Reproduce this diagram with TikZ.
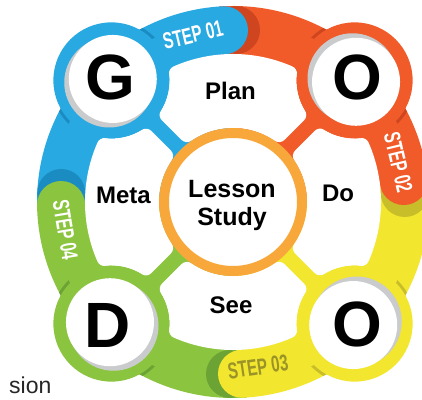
\documentclass[tikz,border=0pt]{standalone}
\usepackage{fontspec}
\setmainfont{Liberation Sans}
\usetikzlibrary{calc}
\definecolor{cblue}{HTML}{29A9E1}
\definecolor{cblueD}{HTML}{1B8CC2}
\definecolor{corange}{HTML}{F15A29}
\definecolor{corangeD}{HTML}{CF4520}
\definecolor{cyellow}{HTML}{F3E62E}
\definecolor{cyellowD}{HTML}{C8BE2A}
\definecolor{cgreen}{HTML}{8BC53F}
\definecolor{cgreenD}{HTML}{6CA335}
\definecolor{cring}{HTML}{F8A83B}
\definecolor{cgray}{HTML}{C9CBCD}
\definecolor{cstep}{HTML}{9A9428}
\newcommand\steptext[1]{\scalebox{0.66}[1]{\bfseries\fontsize{23}{23}\selectfont #1}}
\tikzset{
  steplbl/.style={text=white, inner sep=0pt},
  bigletter/.style={font=\bfseries\fontsize{64}{64}\selectfont, anchor=base, inner sep=0pt},
  petaltxt/.style={font=\bfseries\fontsize{24}{24}\selectfont, anchor=base, inner sep=0pt},
  petalfill/.style={fill=white, draw=white, line width=16pt, line join=round},
}
\newcommand\petalpath{(55.90:82) -- (53.18:108.96) arc[start angle=211.42, end angle=174.18, radius=66] arc[start angle=66.42, end angle=113.58, radius=140] arc[start angle=5.82, end angle=-31.42, radius=66] -- (124.10:82) arc[start angle=124.10, end angle=55.90, radius=82] -- cycle}
\begin{document}
\begin{tikzpicture}[x=1pt,y=1pt]
\useasboundingbox (0,0) rectangle (422,399);
\clip (0,0) rectangle (422,399);
\fill[white] (0,0) rectangle (422,399);
\coordinate (C) at (233,197);
\coordinate (G) at ($(C)+(135:172)$);
\coordinate (O1) at ($(C)+(45:172)$);
\coordinate (O2) at ($(C)+(-45:172)$);
\coordinate (D) at ($(C)+(-135:172)$);
% inner coloured quadrants
\fill[cblue] (C) -- ($(C)+(90:150)$) arc[start angle=90, end angle=180, radius=150] -- cycle;
\fill[corange] (C) -- ($(C)+(0:150)$) arc[start angle=0, end angle=90, radius=150] -- cycle;
\fill[cyellow] (C) -- ($(C)+(-90:150)$) arc[start angle=-90, end angle=0, radius=150] -- cycle;
\fill[cgreen] (C) -- ($(C)+(180:150)$) arc[start angle=180, end angle=270, radius=150] -- cycle;
% band
\draw[cblue, line width=48pt] ($(C)+(92:172)$) arc[start angle=92, end angle=182, radius=172];
\draw[corange, line width=48pt] ($(C)+(6:172)$) arc[start angle=6, end angle=94, radius=172];
\draw[cyellow, line width=48pt] ($(C)+(-88:172)$) arc[start angle=-88, end angle=8, radius=172];
\draw[cgreen, line width=48pt] ($(C)+(180:172)$) arc[start angle=180, end angle=274, radius=172];
\begin{scope}[even odd rule]
  \clip (C) circle[radius=196] (C) circle[radius=148];
  \fill[corangeD] ($(C)+(89:172)$) circle[radius=24];
  \fill[cblue] ($(C)+(93:172)$) circle[radius=24];
  \fill[cyellowD] ($(C)+(3:172)$) circle[radius=24];
  \fill[corange] ($(C)+(7:172)$) circle[radius=24];
  \fill[cgreenD] ($(C)+(-91:172)$) circle[radius=24];
  \fill[cyellow] ($(C)+(-87:172)$) circle[radius=24];
  \fill[cblueD] ($(C)+(177:172)$) circle[radius=24];
  \fill[cgreen] ($(C)+(181:172)$) circle[radius=24];
\end{scope}
% white petals
\foreach \r in {0,90,180,270}{
  \begin{scope}[shift={(C)}, rotate=\r]
    \path[petalfill] \petalpath;
  \end{scope}
}
% shadows where the corner circles meet the band
\begin{scope}[even odd rule]
  \clip (C) circle[radius=196] (C) circle[radius=182];
  \fill[cblueD] (G) circle[radius=61];
  \fill[corangeD] (O1) circle[radius=61];
  \fill[cyellowD] (O2) circle[radius=61];
  \fill[cgreenD] (D) circle[radius=61];
\end{scope}
% corner circles
\fill[cblue] (G) circle[radius=58];
\fill[corange] (O1) circle[radius=58];
\fill[cyellow] (O2) circle[radius=58];
\fill[cgreen] (D) circle[radius=58];
\fill[cgray] ($(G)+(225:3)$) circle[radius=45];
\fill[white] ($(G)+(45:2)$) circle[radius=44];
\fill[cgray] ($(O1)+(135:3)$) circle[radius=45];
\fill[white] ($(O1)+(-45:2)$) circle[radius=44];
\fill[cgray] ($(O2)+(45:3)$) circle[radius=45];
\fill[white] ($(O2)+(225:2)$) circle[radius=44];
\fill[cgray] ($(D)+(-45:3)$) circle[radius=45];
\fill[white] ($(D)+(135:2)$) circle[radius=44];
% centre circle
\draw[cring, line width=10pt, fill=white] (C) circle[radius=69];
% texts
\node[petaltxt, font=\bfseries\fontsize{25}{25}\selectfont] (lesson) at (232,201) {Lesson};
\node[petaltxt, font=\bfseries\fontsize{25}{25}\selectfont] (study) at (232,174) {Study};
\node[petaltxt] (plan) at (230.5,299) {Plan};
\node[petaltxt] (meta) at (123.5,195) {Meta};
\node[petaltxt] (do) at (338,197) {Do};
\node[petaltxt] (see) at (231,86) {See};
\node[bigletter] (g) at (110,299) {G};
\node[bigletter] (o1) at (357,299) {O};
\node[bigletter] (d) at (108,52) {D};
\node[bigletter] (o2) at (357,53) {O};
\node[steplbl, rotate=13.5] (s1) at ($(C)+(103.5:172)$) {\steptext{STEP 01}};
\node[steplbl, rotate=-76.6] (s2) at ($(C)+(13.4:170)$) {\steptext{STEP 02}};
\node[steplbl, text=cstep, rotate=8.6] (s3) at ($(C)+(-81.4:167)$) {\steptext{STEP 03}};
\node[steplbl, rotate=-80.5] (s4) at ($(C)+(189.5:170)$) {\steptext{STEP 04}};
\node[anchor=base west, inner sep=0pt, font=\fontsize{23}{23}\selectfont, text=black!85] (sion) at (9,6) {sion};
\end{tikzpicture}
\end{document}
